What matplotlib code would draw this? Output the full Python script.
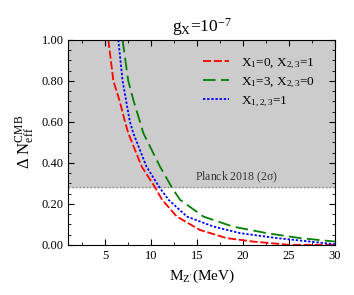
import matplotlib
matplotlib.use("Agg")
import matplotlib.pyplot as plt
from matplotlib.ticker import MultipleLocator, FormatStrFormatter

plt.rcParams["font.family"] = ["Liberation Serif", "DejaVu Serif"]
plt.rcParams["mathtext.fontset"] = "custom"
plt.rcParams["mathtext.rm"] = "Liberation Serif"
plt.rcParams["mathtext.it"] = "Liberation Serif"

# curves
m_red = [5.35, 5.9, 6.55, 7.17, 7.52, 8.98, 10.43, 11.2, 12.8, 15.3, 18.2, 21.1, 25.1, 30.0]
n_red = [1.0, 0.8, 0.707, 0.6, 0.545, 0.382, 0.281, 0.22, 0.138, 0.073, 0.033, 0.016, 0.0, 0.0]

m_blue = [6.44, 6.9, 7.27, 7.7, 8.07, 9.5, 10.9, 11.9, 13.9, 16.8, 19.7, 23.7, 27.3, 30.0]
n_blue = [1.0, 0.8, 0.707, 0.6, 0.545, 0.382, 0.281, 0.22, 0.138, 0.089, 0.057, 0.033, 0.016, 0.003]

m_green = [6.9, 7.52, 8.07, 8.8, 9.16, 10.97, 12.25, 13.15, 15.7, 18.9, 22.6, 26.2, 30.0]
n_green = [1.0, 0.8, 0.707, 0.6, 0.545, 0.382, 0.281, 0.22, 0.138, 0.089, 0.057, 0.033, 0.016]

planck = 0.281

fig = plt.figure(figsize=(3.54, 2.95), dpi=100)
ax = fig.add_axes([0.193, 0.17, 0.753, 0.695])

ax.axhspan(planck, 1.0, color="#cccccc", zorder=0)
ax.axhline(planck, color="#888888", ls=":", lw=1.0, zorder=1)
ax.text(19.3, planck + 0.01, r"Planck 2018 (2$\sigma$)", fontsize=8.5,
        ha="center", va="bottom", color="#333333")

ax.plot(m_red, n_red, color="red", ls=(0, (4.5, 1.5)), lw=1.3,
        label=r"X$_1$=0, X$_{2,3}$=1")
ax.plot(m_green, n_green, color="green", ls=(0, (7, 3)), lw=1.3,
        label=r"X$_1$=3, X$_{2,3}$=0")
ax.plot(m_blue, n_blue, color="blue", ls=(0, (1.3, 1.0)), lw=1.3,
        label=r"X$_{1,2,3}$=1")

ax.set_xlim(1, 30)
ax.set_ylim(0, 1)
ax.xaxis.set_major_locator(MultipleLocator(5))
ax.xaxis.set_minor_locator(MultipleLocator(2.5))
ax.yaxis.set_major_locator(MultipleLocator(0.2))
ax.yaxis.set_minor_locator(MultipleLocator(0.05))
ax.yaxis.set_major_formatter(FormatStrFormatter("%.2f"))
ax.tick_params(which="both", direction="in", top=True, right=True, labelsize=9)
ax.tick_params(which="major", length=4)
ax.tick_params(which="minor", length=2)

ax.set_xlabel(r"M$_{Z'}$(MeV)", fontsize=11)
ax.set_ylabel(r"$\Delta$ N$_{\rm eff}^{\rm CMB}$", fontsize=12)
ax.set_title(r"g$_X$=10$^{-7}$", fontsize=12.5)

ax.legend(loc="upper right", frameon=False, fontsize=9.5, handlelength=2.0,
          handletextpad=0.9, bbox_to_anchor=(0.97, 0.975), labelspacing=0.35)

fig.savefig("out.png", dpi=100)
